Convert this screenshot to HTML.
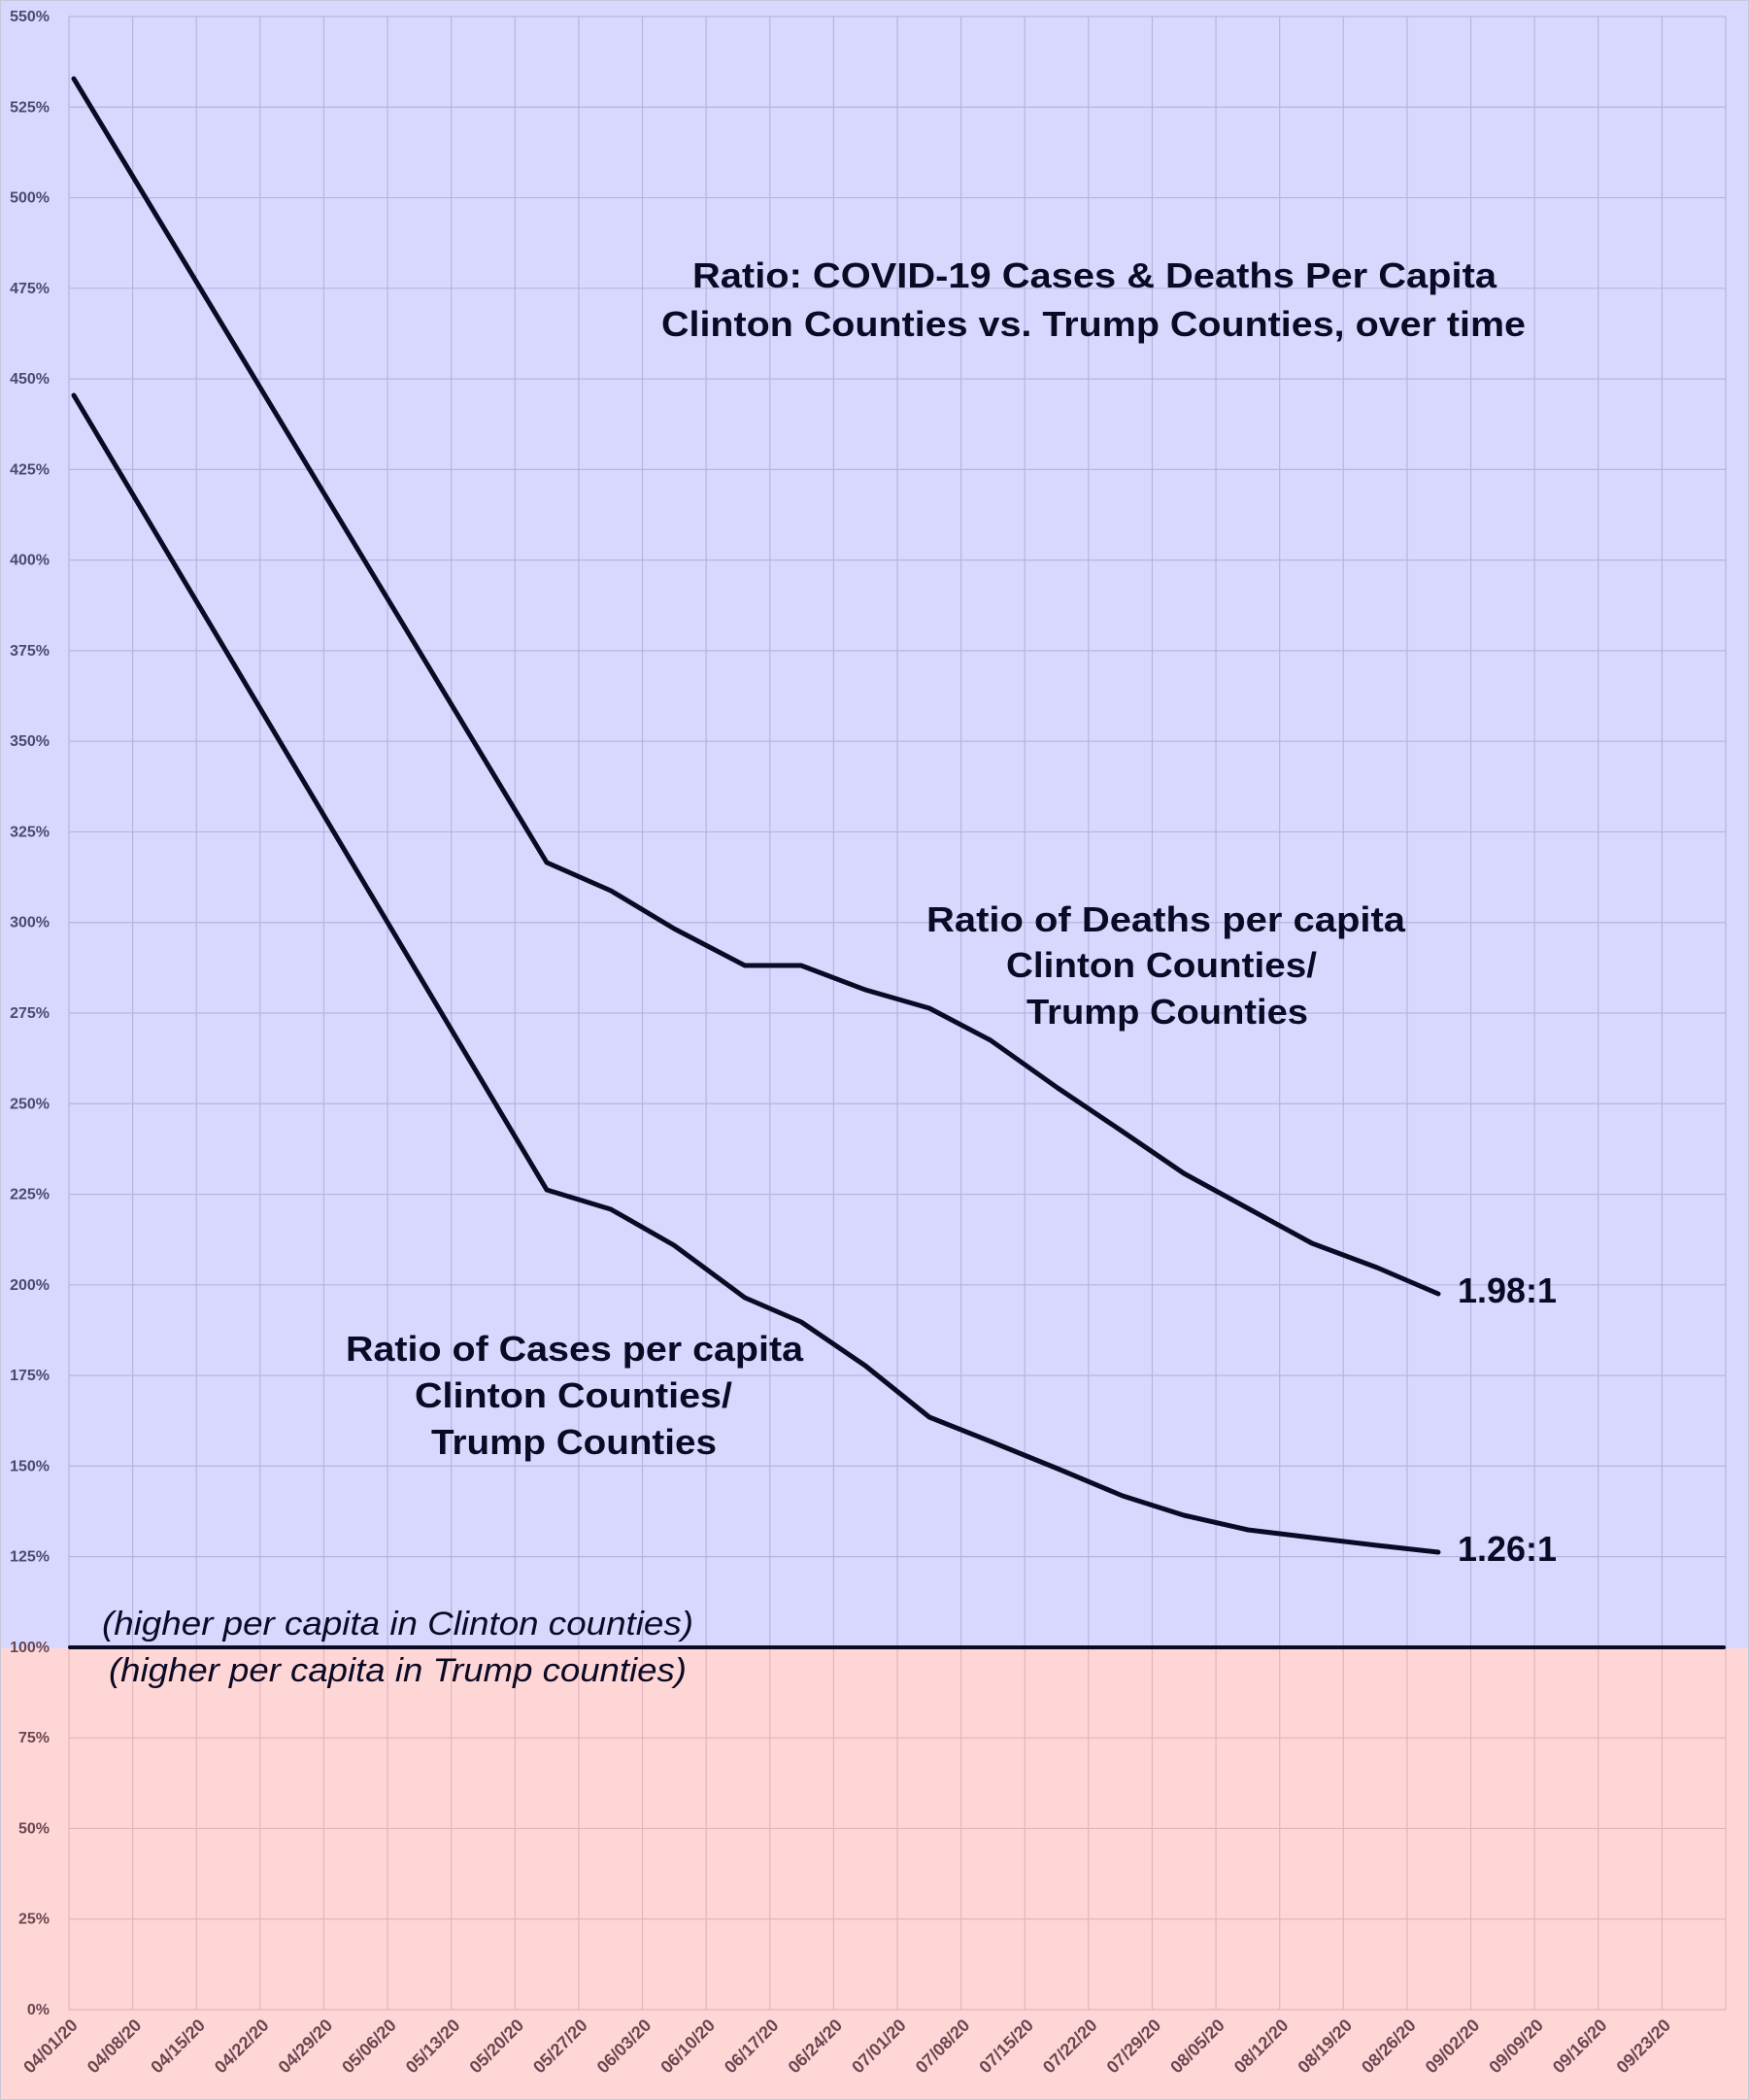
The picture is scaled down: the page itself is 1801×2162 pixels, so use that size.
<!DOCTYPE html>
<html><head><meta charset="utf-8"><style>
html,body{margin:0;padding:0;background:#ffd6d6;}
svg{display:block;}
</style></head><body>
<svg width="1801" height="2162" viewBox="0 0 1801 2162" xmlns="http://www.w3.org/2000/svg">
<rect x="0" y="0" width="1801" height="1697" fill="#d8d8ff"/>
<rect x="0" y="1697" width="1801" height="465" fill="#ffd6d6"/>
<rect x="0.5" y="0.5" width="1800" height="2161" fill="none" stroke="#c8c8d8" stroke-width="1"/>
<g id="grid"></g>
<g id="labels" font-family="Liberation Sans, sans-serif" font-weight="bold" font-size="16"></g>
<polyline fill="none" stroke="#0a0a25" stroke-width="5" stroke-linejoin="round" stroke-linecap="round" points="76,81 563,888 629,917 694,956 767,994 825,994 891,1019 957,1038 1020,1071 1089,1120 1156,1165 1219,1208 1285,1244 1351,1280 1418,1305 1481,1332"/>
<polyline fill="none" stroke="#0a0a25" stroke-width="5" stroke-linejoin="round" stroke-linecap="round" points="76,407 563,1225 629,1245 694,1282 767,1336 825,1361 891,1406 957,1459 1020,1484 1089,1512 1156,1540 1219,1560 1285,1575 1351,1583 1418,1591 1481,1598"/>
<line x1="72" y1="1696" x2="1775" y2="1696" stroke="#0a0a25" stroke-width="4" stroke-linecap="round"/>
<g font-family="Liberation Sans, sans-serif" font-weight="bold" fill="#0a0a25" font-size="36">
<text x="713" y="296" textLength="828" lengthAdjust="spacingAndGlyphs">Ratio: COVID-19 Cases &amp; Deaths Per Capita</text>
<text x="681" y="346" textLength="890" lengthAdjust="spacingAndGlyphs">Clinton Counties vs. Trump Counties, over time</text>
<text x="954" y="959" textLength="493" lengthAdjust="spacingAndGlyphs">Ratio of Deaths per capita</text>
<text x="1036" y="1006" textLength="320" lengthAdjust="spacingAndGlyphs">Clinton Counties/</text>
<text x="1057" y="1054" textLength="290" lengthAdjust="spacingAndGlyphs">Trump Counties</text>
<text x="356" y="1401" textLength="471" lengthAdjust="spacingAndGlyphs">Ratio of Cases per capita</text>
<text x="427" y="1449" textLength="327" lengthAdjust="spacingAndGlyphs">Clinton Counties/</text>
<text x="444" y="1497" textLength="294" lengthAdjust="spacingAndGlyphs">Trump Counties</text>
<text x="1501" y="1341" textLength="102" lengthAdjust="spacingAndGlyphs">1.98:1</text>
<text x="1501" y="1607" textLength="102" lengthAdjust="spacingAndGlyphs">1.26:1</text>
</g>
<g font-family="Liberation Sans, sans-serif" font-style="italic" fill="#0a0a25" font-size="34">
<text x="105" y="1683" textLength="609" lengthAdjust="spacingAndGlyphs">(higher per capita in Clinton counties)</text>
<text x="112" y="1731" textLength="595" lengthAdjust="spacingAndGlyphs">(higher per capita in Trump counties)</text>
</g>
<script>
(function(){
var ns="http://www.w3.org/2000/svg";
var g=document.getElementById("grid"), L=document.getElementById("labels");
var left=71,right=1777,top=17,bot=2069,step=(right-left)/26,ystep=(bot-top)/22;
function el(n,a,p){var e=document.createElementNS(ns,n);for(var k in a)e.setAttribute(k,a[k]);p.appendChild(e);return e;}
for(var i=0;i<=22;i++){var y=top+i*ystep;var v=550-i*25;var pink=v<100;
 el("line",{x1:left,x2:right,y1:y,y2:y,stroke:pink?"#e4b4bc":"#b4b4e0","stroke-width":1.2},g);
 var t=el("text",{x:51,y:y+5,"text-anchor":"end",fill:v<=100?"#6b4650":"#4a4a6e"},L);t.textContent=v+"%";}
var dates=["04/01","04/08","04/15","04/22","04/29","05/06","05/13","05/20","05/27","06/03","06/10","06/17","06/24","07/01","07/08","07/15","07/22","07/29","08/05","08/12","08/19","08/26","09/02","09/09","09/16","09/23"];
for(var j=0;j<=26;j++){var x=left+j*step;
 el("line",{x1:x,x2:x,y1:top,y2:1697,stroke:"#b4b4e0","stroke-width":1.2},g);
 el("line",{x1:x,x2:x,y1:1697,y2:bot,stroke:"#e4b4bc","stroke-width":1.2},g);
 if(j<26){var t=el("text",{x:0,y:0,"text-anchor":"end",fill:"#6b4650","font-size":"18",transform:"translate("+(x+10)+",2086) rotate(-45)"},L);t.textContent=dates[j]+"/20";}}
})();
</script>
</svg>
</body></html>
